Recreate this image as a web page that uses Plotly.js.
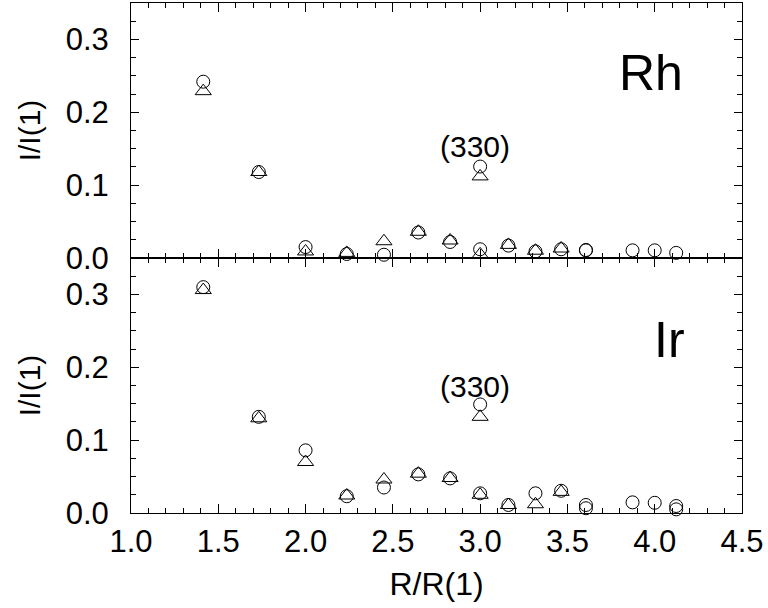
<!DOCTYPE html>
<html>
<head>
<meta charset="utf-8">
<script src="https://cdn.plot.ly/plotly-3.0.1.min.js"></script>
<style>html,body{margin:0;padding:0;background:#fff;}#chart{width:768px;height:608px;}</style>
</head>
<body>
<div id="chart"></div>
<script>
// Rh (top panel)
const rhCircleX = [1.414, 1.732, 2.0, 2.236, 2.449, 2.646, 2.828, 3.0, 3.0, 3.162, 3.317, 3.464, 3.606, 3.606, 3.873, 4.0, 4.123];
const rhCircleY = [0.242, 0.118, 0.015, 0.0055, 0.0045, 0.035, 0.022, 0.1255, 0.012, 0.017, 0.009, 0.012, 0.0105, 0.011, 0.0105, 0.0105, 0.007];
const rhTriX = [1.414, 1.732, 2.0, 2.236, 2.449, 2.646, 2.828, 3.0, 3.0, 3.162, 3.317, 3.464];
const rhTriY = [0.229, 0.118, 0.009, 0.007, 0.023, 0.036, 0.024, 0.112, 0.005, 0.018, 0.010, 0.013];
// Ir (bottom panel)
const irCircleX = [1.414, 1.732, 2.0, 2.236, 2.449, 2.646, 2.828, 3.0, 3.0, 3.162, 3.317, 3.464, 3.606, 3.606, 3.873, 4.0, 4.123, 4.123];
const irCircleY = [0.310, 0.132, 0.086, 0.023, 0.035, 0.053, 0.0475, 0.149, 0.027, 0.011, 0.027, 0.0305, 0.011, 0.0065, 0.0146, 0.014, 0.0096, 0.005];
const irTriX = [1.414, 1.732, 2.0, 2.236, 2.449, 2.646, 2.828, 3.0, 3.0, 3.162, 3.317, 3.464];
const irTriY = [0.306, 0.130, 0.070, 0.024, 0.046, 0.054, 0.048, 0.132, 0.025, 0.011, 0.012, 0.029];

const FONT = 'Liberation Sans, Arial, Helvetica, sans-serif';
const circ = {symbol: 'circle-open', size: 13, color: 'black', line: {width: 1, color: 'black'}};
const tri = {symbol: 'triangle-up-open', size: 14, color: 'black', line: {width: 1, color: 'black'}};

const traces = [
  {x: rhCircleX, y: rhCircleY, xaxis: 'x2', yaxis: 'y2', mode: 'markers', marker: circ, cliponaxis: false, showlegend: false},
  {x: rhTriX, y: rhTriY, xaxis: 'x2', yaxis: 'y2', mode: 'markers', marker: tri, cliponaxis: false, showlegend: false},
  {x: irCircleX, y: irCircleY, xaxis: 'x', yaxis: 'y', mode: 'markers', marker: circ, cliponaxis: false, showlegend: false},
  {x: irTriX, y: irTriY, xaxis: 'x', yaxis: 'y', mode: 'markers', marker: tri, cliponaxis: false, showlegend: false}
];

const xCommon = {
  range: [1.0, 4.5], dtick: 0.5, tick0: 1.0, tickformat: '.1f',
  showline: true, linecolor: 'black', linewidth: 1, mirror: 'ticks',
  ticks: 'inside', ticklen: 9, tickcolor: 'black', tickwidth: 1,
  minor: {dtick: 0.1, ticks: 'inside', ticklen: 5, tickcolor: 'black', tickwidth: 1},
  showgrid: false, zeroline: false,
  tickfont: {family: FONT, size: 31, color: 'black'}
};
const yCommon = {
  range: [0, 0.35], dtick: 0.1, tick0: 0, tickformat: '.1f',
  showline: true, linecolor: 'black', linewidth: 1, mirror: 'ticks',
  ticks: 'inside', ticklen: 8, tickcolor: 'black', tickwidth: 1,
  minor: {dtick: 0.025, ticks: 'inside', ticklen: 5, tickcolor: 'black', tickwidth: 1},
  showgrid: false, zeroline: false,
  tickfont: {family: FONT, size: 31, color: 'black'},
  ticklabelstandoff: 15
};

const layout = {
  width: 768, height: 608,
  margin: {l: 131, r: 26, t: 3, b: 95},
  paper_bgcolor: 'white', plot_bgcolor: 'white',
  font: {family: FONT, color: 'black'},
  xaxis: Object.assign({}, xCommon, {anchor: 'y', domain: [0, 1], ticklabelstandoff: 1,
    title: {text: 'R/R(1)', font: {family: FONT, size: 32, color: 'black'}, standoff: 14}}),
  yaxis: Object.assign({}, yCommon, {anchor: 'x', domain: [0, 0.5],
    title: {text: 'I/I(1)', font: {family: FONT, size: 30, color: 'black'}, standoff: 16}}),
  xaxis2: Object.assign({}, xCommon, {anchor: 'y2', domain: [0, 1], matches: 'x', showticklabels: false}),
  yaxis2: Object.assign({}, yCommon, {anchor: 'x2', domain: [0.5, 1],
    title: {text: 'I/I(1)', font: {family: FONT, size: 30, color: 'black'}, standoff: 16}}),
  annotations: [
    {xref: 'x2', yref: 'y2', x: 3.98, y: 0.2545, text: 'Rh', showarrow: false, font: {family: FONT, size: 50, color: 'black'}},
    {xref: 'x', yref: 'y', x: 4.087, y: 0.238, text: 'Ir', showarrow: false, font: {family: FONT, size: 50, color: 'black'}},
    {xref: 'x2', yref: 'y2', x: 2.97, y: 0.153, text: '(330)', showarrow: false, font: {family: FONT, size: 30, color: 'black'}},
    {xref: 'x', yref: 'y', x: 2.97, y: 0.173, text: '(330)', showarrow: false, font: {family: FONT, size: 30, color: 'black'}}
  ]
};

Plotly.newPlot('chart', traces, layout, {staticPlot: true, displayModeBar: false});
</script>
</body>
</html>
